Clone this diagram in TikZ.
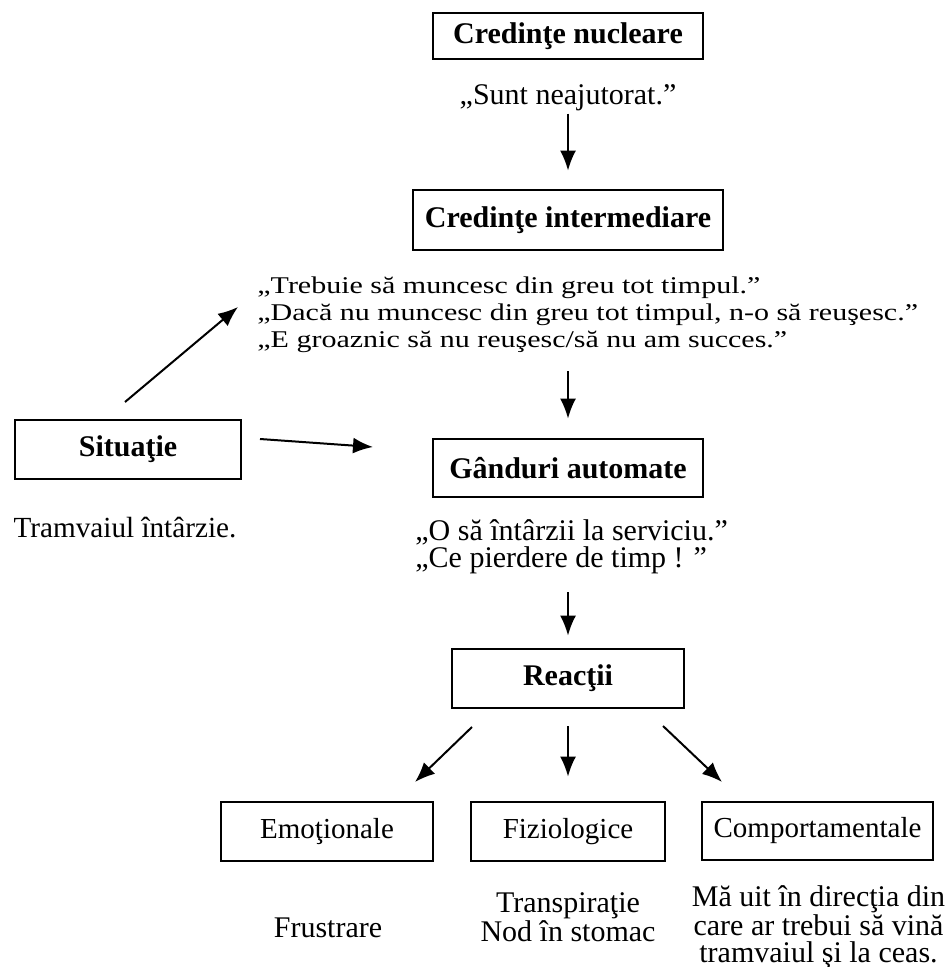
\documentclass[tikz,border=0pt]{standalone}
\usepackage{fontspec}
\setmainfont{Liberation Serif}
\newfontfamily\widefont[FakeStretch=1.25]{Liberation Serif}
\usetikzlibrary{arrows.meta}

\begin{document}
\begin{tikzpicture}[x=0.5pt,y=-0.5pt,
	box/.style={draw,line width=1.4pt,inner sep=0pt,minimum height=29.5pt},
	title/.style={box,font=\fontsize{15}{18}\selectfont\bfseries},
	kind/.style={box,font=\fontsize{14.5}{17}\selectfont},
	txt/.style={inner sep=0pt,font=\fontsize{15}{13.5}\selectfont}]
	\useasboundingbox (0,0) rectangle (948,967);
	\node[title,minimum width=135pt,minimum height=23pt] (CN) at (568,36) {Credinţe nucleare};
	\node[txt] (CNq) at (568,98) {„Sunt neajutorat.”};
	\node[title,minimum width=155pt,minimum height=30pt] (CI) at (568,220) {Credinţe intermediare};
	\node[txt,anchor=west,align=left,font=\widefont\fontsize{12}{13.5}\selectfont] (CIq) at (257,315)
		{„Trebuie să muncesc din greu tot timpul.”\\
		 „Dacă nu muncesc din greu tot timpul, n-o să reuşesc.”\\
		 „E groaznic să nu reuşesc/să nu am succes.”};
	\node[title,minimum width=113pt] (S) at (128,449.5) {Situaţie};
	\node[txt,font=\fontsize{14.6}{16}\selectfont] (Sq) at (125,527.5) {Tramvaiul întârzie.};
	\node[title,minimum width=135pt,minimum height=29pt] (GA) at (568,468) {Gânduri automate};
	\node[txt,anchor=west,align=left] (GAq) at (415,546.5)
		{„O să întârzii la serviciu.”\\
		 „Ce pierdere de timp ! ”};
	\node[title,minimum width=116pt] (R) at (568,678.5) {Reacţii};
	\node[kind,minimum width=106pt] (E) at (327,831.5) {Emoţionale};
	\node[kind,minimum width=97pt] (F) at (568,831.5) {Fiziologice};
	\node[kind,minimum width=115.5pt,minimum height=29pt] (C) at (817.5,831) {Comportamentale};
	\node[txt] (Eq) at (328,927.7) {Frustrare};
	\node[txt,align=center,font=\fontsize{15}{14.5}\selectfont] (Fq) at (568,917)
		{Transpiraţie\\Nod în stomac};
	\node[txt,align=center] (Cq) at (818.5,927)
		{Mă uit în direcţia din\\care ar trebui să vină\\tramvaiul şi la ceas.};
	%
	\coordinate (S1) at (125,402);
	\coordinate (S2) at (238,307);
	\coordinate (S3) at (260,439);
	\coordinate (S4) at (373,447);
	\coordinate (R1) at (472,727);
	\coordinate (R2) at (415,782);
	\coordinate (R3) at (663,726);
	\coordinate (R4) at (722,782);
	%
	\path[->,line width=1pt,>={Latex[length=10pt,width=8pt]}]
	(CNq) edge[shorten <=1pt,shorten >=9pt] (CI)
	(CIq.south -| GA.north) edge[shorten <=9pt,shorten >=9.5pt] (GA)
	(GAq.south -| R.north) edge[shorten <=9pt,shorten >=6pt] (R)
	(R) edge[shorten <=8.5pt,shorten >=12pt] (F)
	(S1) edge (S2)
	(S3) edge (S4)
	(R1) edge (R2)
	(R3) edge (R4);
\end{tikzpicture}
\end{document}
